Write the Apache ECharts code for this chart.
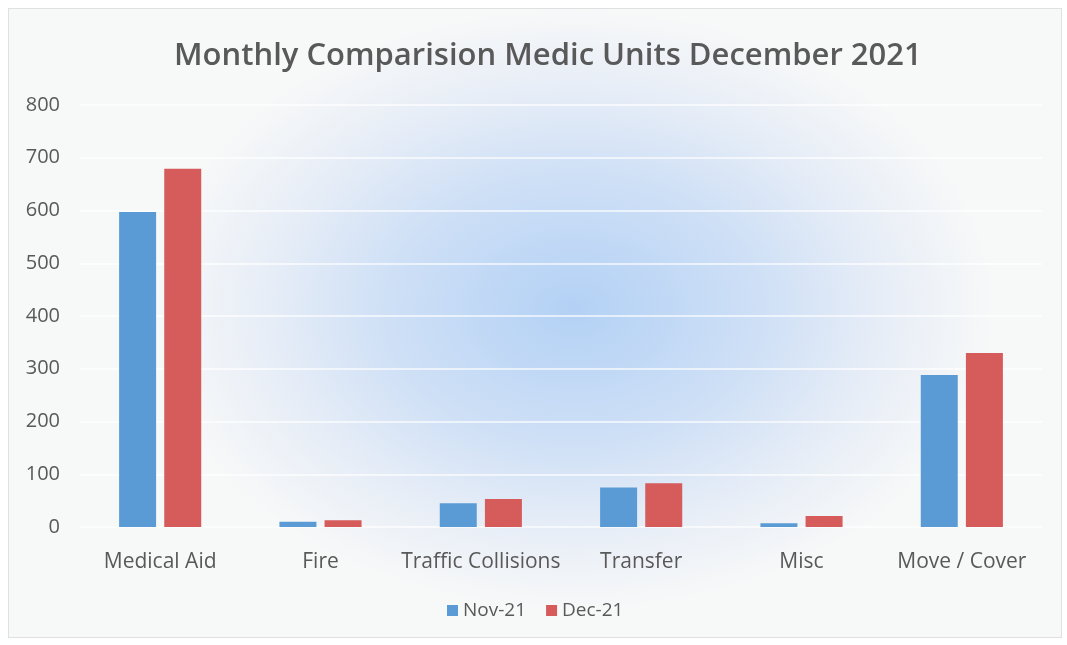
<!DOCTYPE html>
<html>
<head>
<meta charset="utf-8">
<script src="https://cdn.jsdelivr.net/npm/echarts@6/dist/echarts.min.js"></script>
<style>
  html, body { margin: 0; padding: 0; background: #ffffff; }
  #frame {
    position: absolute; left: 8px; top: 8px; width: 1052px; height: 628px;
    border: 1px solid #e0e0e0;
    background: radial-gradient(ellipse 420px 300px at 565px 300px, #b3d1f5 0%, #cfe0f6 45%, #e8eef7 75%, #f7f8f8 100%);
  }
  #chart { position: absolute; left: 0; top: 0; width: 1067px; height: 645px; }
</style>
</head>
<body>
<div id="frame"></div>
<div id="chart"></div>
<script>
// Medic unit responses by call type, November vs December 2021
const categories = ['Medical Aid', 'Fire', 'Traffic Collisions', 'Transfer', 'Misc', 'Move / Cover'];
const nov21 = [597, 10, 45, 75, 7, 288];
const dec21 = [679, 13, 53, 83, 21, 330];
const yTicks = { min: 0, max: 800, interval: 100 };

const font = '"Open Sans", Lato, sans-serif';
const chart = echarts.init(document.getElementById('chart'));
chart.setOption({
  backgroundColor: 'transparent',
  animation: false,
  title: {
    text: 'Monthly Comparision Medic Units December 2021',
    left: 169, top: 36,
    textStyle: { fontFamily: font, fontSize: 31, fontWeight: 600, color: '#595959' }
  },
  legend: {
    bottom: 20, left: 442,
    itemWidth: 11, itemHeight: 11, itemGap: 20,
    icon: 'rect',
    textStyle: { fontFamily: font, fontSize: 19, color: '#595959' },
    data: ['Nov-21', 'Dec-21']
  },
  grid: { left: 80, right: 25, top: 105, bottom: 118, containLabel: false },
  xAxis: {
    type: 'category', data: categories,
    axisLine: { show: false }, axisTick: { show: false },
    axisLabel: { fontFamily: font, fontSize: 21, color: '#595959', margin: 25, interval: 0 }
  },
  yAxis: {
    type: 'value', min: yTicks.min, max: yTicks.max, interval: yTicks.interval,
    axisLine: { show: false }, axisTick: { show: false },
    axisLabel: { fontFamily: font, fontSize: 20, color: '#595959', margin: 20 },
    splitLine: { lineStyle: { color: 'rgba(255,255,255,0.85)', width: 1.5 } }
  },
  series: [
    { name: 'Nov-21', type: 'bar', data: nov21, barWidth: 37, barGap: '22%',
      itemStyle: { color: '#5b9bd5' } },
    { name: 'Dec-21', type: 'bar', data: dec21, barWidth: 37,
      itemStyle: { color: '#d65b5b' } }
  ]
});
</script>
</body>
</html>
